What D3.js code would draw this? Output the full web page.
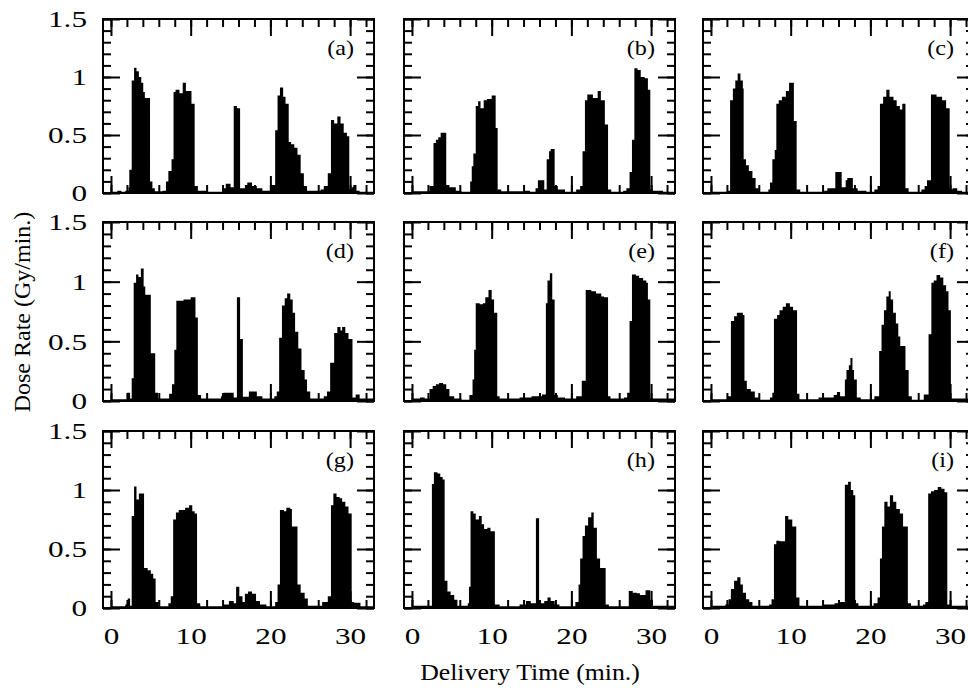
<!DOCTYPE html>
<html>
<head>
<meta charset="utf-8">
<script src="https://cdn.jsdelivr.net/npm/d3@7"></script>
<style>
  body { margin: 0; background: #fff; }
  svg { display: block; font-family: "Liberation Serif", "Times New Roman", serif; }
</style>
</head>
<body>
<div id="chart"></div>
<script>
// dose rate step histograms, [time (min), dose rate (Gy/min)] - value holds until next point
const panelA = [[0,0.01],[0.8,0.02],[1.3,0.01],[1.8,0.02],[2.2,0.05],[2.3,0.2],[2.6,0.97],[2.9,1.08],[3.2,1.05],[3.5,1.0],[3.8,0.95],[4.05,0.87],[4.25,0.82],[4.9,0.1],[5.2,0.04],[5.5,0.015],[6.5,0.02],[6.9,0.1],[7.2,0.19],[7.6,0.29],[7.85,0.87],[8.1,0.89],[8.6,0.86],[9.0,0.95],[9.4,0.88],[10.1,0.77],[10.5,0.06],[10.9,0.02],[12,0.01],[14.0,0.04],[14.4,0.08],[15.0,0.05],[15.4,0.75],[15.8,0.73],[16.2,0.04],[16.8,0.07],[17.1,0.09],[17.7,0.06],[18.3,0.04],[19,0.02],[20.2,0.07],[20.6,0.54],[20.9,0.84],[21.2,0.91],[21.6,0.83],[21.9,0.77],[22.3,0.44],[22.6,0.42],[23.0,0.39],[23.4,0.33],[23.8,0.17],[24.2,0.06],[24.6,0.02],[26.3,0.03],[26.7,0.06],[27.2,0.17],[27.6,0.63],[28.0,0.6],[28.4,0.66],[28.8,0.6],[29.2,0.52],[29.6,0.49],[29.9,0.03],[30.2,0.05],[30.4,0.07],[30.8,0.02],[31.2,0.01],[33,0]];
const panelB = [[0,0.015],[2.2,0.06],[2.7,0.43],[3.0,0.46],[3.3,0.48],[3.6,0.52],[4.3,0.07],[4.7,0.05],[5.5,0.02],[6.2,0.01],[7.3,0.1],[7.5,0.23],[7.7,0.34],[8.0,0.75],[8.3,0.79],[8.6,0.73],[9.0,0.8],[9.4,0.81],[10.0,0.84],[10.5,0.56],[10.75,0.03],[11.2,0.015],[14.0,0.02],[14.8,0.01],[15.5,0.04],[15.8,0.11],[16.6,0.03],[16.9,0.29],[17.2,0.36],[17.4,0.38],[17.9,0.06],[18.3,0.03],[19.2,0.01],[20.6,0.03],[21.1,0.06],[21.4,0.36],[21.7,0.8],[22.0,0.85],[22.7,0.82],[23.3,0.88],[23.7,0.8],[24.2,0.59],[24.6,0.03],[25,0.01],[26.5,0.02],[26.9,0.04],[27.3,0.18],[27.6,0.46],[27.9,1.075],[28.3,1.06],[28.7,1.0],[29.2,0.99],[29.6,0.89],[29.9,0.03],[30.2,0.02],[31.5,0.01],[33,0]];
const panelC = [[0,0.01],[2.0,0.02],[2.4,0.8],[2.75,0.9],[3.05,0.97],[3.35,1.03],[3.7,0.97],[4.0,0.9],[4.1,0.29],[4.4,0.24],[4.75,0.19],[5.2,0.13],[5.6,0.04],[6.0,0.01],[7.2,0.03],[7.4,0.09],[7.7,0.29],[8.0,0.37],[8.2,0.77],[8.5,0.8],[8.9,0.83],[9.4,0.88],[9.8,0.95],[10.4,0.62],[10.75,0.03],[11.2,0.01],[14.2,0.02],[14.6,0.04],[15.6,0.18],[16.4,0.05],[16.9,0.11],[17.1,0.13],[17.8,0.04],[18.4,0.02],[19.5,0.01],[20.5,0.03],[20.9,0.06],[21.2,0.77],[21.6,0.83],[22.0,0.89],[22.4,0.83],[22.9,0.8],[23.3,0.75],[23.7,0.72],[24.0,0.77],[24.4,0.04],[24.8,0.01],[26.4,0.03],[26.8,0.06],[27.1,0.11],[27.6,0.85],[28.3,0.83],[29.0,0.8],[29.5,0.73],[29.95,0.03],[30.3,0.04],[30.9,0.02],[31.5,0.01],[33,0]];
const panelD = [[0,0.015],[2.0,0.07],[2.4,0.02],[2.6,0.19],[2.85,0.99],[3.15,1.06],[3.45,1.04],[3.75,1.11],[4.1,0.96],[4.3,0.89],[5.0,0.4],[5.55,0.07],[5.9,0.02],[7.3,0.06],[7.65,0.14],[7.95,0.43],[8.2,0.84],[9.1,0.85],[10.0,0.87],[10.6,0.7],[10.9,0.05],[11.3,0.02],[13.8,0.04],[14.1,0.07],[15.4,0.03],[15.8,0.87],[16.2,0.52],[16.55,0.035],[17.3,0.08],[18.3,0.04],[19,0.02],[20.5,0.04],[20.8,0.08],[21.1,0.53],[21.45,0.8],[21.8,0.86],[22.1,0.9],[22.5,0.85],[22.8,0.74],[23.1,0.58],[23.5,0.44],[23.9,0.26],[24.3,0.18],[24.6,0.08],[25.0,0.02],[26.7,0.04],[27.1,0.08],[27.5,0.32],[28.0,0.57],[28.4,0.62],[28.8,0.59],[29.0,0.62],[29.4,0.57],[29.8,0.52],[30.3,0.03],[30.7,0.055],[31.2,0.02],[33,0]];
const panelE = [[0,0.02],[1.0,0.03],[1.6,0.02],[2.2,0.1],[2.6,0.125],[3.0,0.14],[3.4,0.15],[3.9,0.14],[4.3,0.1],[4.7,0.04],[5.3,0.02],[6.2,0.01],[7.2,0.05],[7.6,0.18],[7.8,0.43],[8.0,0.82],[8.5,0.81],[8.9,0.82],[9.2,0.87],[9.6,0.93],[10.0,0.85],[10.3,0.74],[10.7,0.04],[11.0,0.02],[13.5,0.03],[15.0,0.04],[16.3,0.055],[16.8,0.82],[17.0,1.01],[17.3,1.07],[17.6,0.85],[17.9,0.05],[18.3,0.03],[19.2,0.02],[20.6,0.04],[21.3,0.17],[21.8,0.93],[22.5,0.92],[23.1,0.9],[23.75,0.875],[24.1,0.87],[24.6,0.04],[24.9,0.02],[26.6,0.03],[27.0,0.07],[27.3,0.67],[27.6,1.06],[28.1,1.05],[28.5,1.03],[29.0,1.01],[29.4,0.99],[29.6,0.85],[29.9,0.02],[33,0]];
const panelF = [[0,0.015],[2.0,0.04],[2.5,0.67],[2.9,0.71],[3.25,0.74],[3.6,0.74],[4.0,0.72],[4.2,0.17],[4.5,0.1],[5.0,0.08],[5.5,0.03],[6.0,0.01],[7.4,0.03],[7.7,0.07],[7.9,0.69],[8.3,0.72],[8.6,0.76],[9.0,0.79],[9.4,0.82],[9.9,0.79],[10.3,0.76],[10.8,0.06],[11.1,0.015],[13.5,0.03],[15.4,0.05],[15.8,0.075],[16.2,0.04],[16.8,0.18],[17.0,0.26],[17.3,0.3],[17.5,0.36],[17.75,0.26],[17.95,0.18],[18.3,0.03],[18.8,0.015],[20.5,0.04],[21.1,0.42],[21.4,0.64],[21.7,0.76],[22.0,0.875],[22.3,0.92],[22.55,0.85],[22.85,0.74],[23.2,0.65],[23.5,0.54],[23.75,0.46],[24.4,0.26],[24.8,0.04],[25.2,0.01],[26.7,0.055],[27.3,0.56],[27.65,0.99],[27.95,1.01],[28.3,1.055],[28.75,1.035],[29.15,0.97],[29.5,0.92],[29.8,0.76],[30.1,0.02],[33,0]];
const panelG = [[0,0.015],[1.8,0.03],[2.1,0.08],[2.4,0.02],[2.6,0.78],[2.9,1.03],[3.2,0.92],[3.5,0.97],[3.9,0.97],[4.15,0.34],[4.6,0.32],[5.0,0.29],[5.3,0.25],[5.6,0.05],[6.0,0.015],[7.2,0.04],[7.5,0.1],[7.8,0.75],[8.15,0.81],[8.5,0.83],[8.9,0.83],[9.3,0.85],[9.8,0.87],[10.2,0.82],[10.5,0.8],[10.8,0.04],[11.2,0.015],[14.0,0.03],[14.8,0.06],[15.4,0.04],[15.7,0.18],[16.1,0.1],[16.5,0.05],[16.8,0.12],[17.2,0.14],[17.7,0.12],[18.2,0.06],[18.7,0.03],[19.5,0.015],[20.6,0.05],[20.9,0.2],[21.2,0.83],[21.7,0.82],[22.0,0.85],[22.5,0.84],[22.7,0.69],[23.4,0.2],[23.8,0.13],[24.3,0.08],[24.7,0.02],[26.5,0.05],[27.2,0.1],[27.6,0.87],[27.9,0.97],[28.3,0.94],[28.7,0.93],[29.0,0.9],[29.4,0.86],[29.8,0.8],[30.2,0.05],[30.5,0.045],[31.3,0.015],[33,0]];
const panelH = [[0,0.02],[2.5,1.05],[2.75,1.15],[3.2,1.14],[3.55,1.11],[3.85,1.09],[4.1,0.23],[4.45,0.14],[4.85,0.11],[5.3,0.07],[5.7,0.02],[7.0,0.04],[7.15,0.18],[7.35,0.82],[7.7,0.8],[8.0,0.75],[8.4,0.78],[8.75,0.71],[9.05,0.67],[9.45,0.68],[9.85,0.65],[10.4,0.03],[11,0.015],[13.5,0.03],[14.3,0.06],[14.9,0.04],[15.55,0.76],[15.95,0.04],[16.6,0.06],[17.0,0.09],[17.4,0.06],[17.9,0.03],[18.5,0.015],[20.5,0.05],[20.9,0.2],[21.1,0.42],[21.4,0.61],[21.7,0.7],[22.1,0.77],[22.5,0.81],[22.8,0.68],[23.2,0.42],[23.6,0.34],[24.3,0.03],[24.7,0.015],[27.2,0.145],[27.7,0.13],[28.2,0.125],[28.6,0.11],[29.3,0.15],[29.9,0.07],[30.2,0.02],[33,0]];
const panelI = [[0,0.02],[1.8,0.03],[2.2,0.075],[2.5,0.16],[2.9,0.23],[3.3,0.26],[3.7,0.2],[4.0,0.13],[4.4,0.075],[4.8,0.05],[5.2,0.02],[7.3,0.03],[7.6,0.075],[7.9,0.54],[8.2,0.57],[8.6,0.565],[9.3,0.78],[9.7,0.75],[10.2,0.69],[10.7,0.09],[11.1,0.02],[14.0,0.03],[15.5,0.04],[16.2,0.05],[16.8,1.045],[17.2,1.07],[17.55,1.0],[17.85,0.955],[18.1,0.04],[18.5,0.02],[20.4,0.04],[20.9,0.09],[21.2,0.42],[21.45,0.69],[21.75,0.9],[22.15,0.86],[22.45,0.955],[22.85,0.9],[23.25,0.84],[23.7,0.8],[24.1,0.69],[24.7,0.04],[25.1,0.02],[26.6,0.03],[26.9,0.05],[27.25,0.97],[27.6,0.99],[28.0,1.0],[28.45,1.025],[28.9,1.01],[29.3,0.98],[29.65,0.03],[30.1,0.02],[33,0]];

const panelSeries = [panelA, panelB, panelC, panelD, panelE, panelF, panelG, panelH, panelI];
const panelLabels = ["(a)", "(b)", "(c)", "(d)", "(e)", "(f)", "(g)", "(h)", "(i)"];
const xMajorTicks = [0, 10, 20, 30];
const xMinorTicks = d3.range(0, 33, 2);
const yMajorTicks = [0, 0.5, 1, 1.5];
const yMinorTicks = d3.range(0, 1.51, 0.1);
const xTitle = "Delivery Time (min.)";
const yTitle = "Dose Rate (Gy/min.)";

// layout
const W = 968, H = 688;
const colX = [103, 404, 703];
const rowY = [19, 222, 431];
const rowH = [174, 179, 177];
const panelW = 271;
const majorLen = 17, minorLen = 8;

// the scanned lettering is wider than Liberation Serif, so widen glyphs a bit
function widen(sel, k) {
  sel.each(function () {
    const w = this.getComputedTextLength();
    if (w > 0) d3.select(this).attr("textLength", w * k).attr("lengthAdjust", "spacingAndGlyphs");
  });
}

const svg = d3.select("#chart").append("svg")
  .attr("width", W)
  .attr("height", H);

const x = d3.scaleLinear().domain([-1, 33]).range([0, panelW]);

panelSeries.forEach((series, k) => {
  const col = k % 3, row = Math.floor(k / 3);
  const h = rowH[row];
  const y = d3.scaleLinear().domain([0, 1.5]).range([h, 0]);

  const g = svg.append("g")
    .attr("transform", "translate(" + colX[col] + "," + rowY[row] + ")");

  g.append("clipPath").attr("id", "clip" + k)
    .append("rect").attr("width", panelW).attr("height", h);

  const area = d3.area()
    .curve(d3.curveStepAfter)
    .x(d => x(d[0]))
    .y0(h)
    .y1(d => y(d[1]));

  g.append("path")
    .datum(series)
    .attr("clip-path", "url(#clip" + k + ")")
    .attr("fill", "#000")
    .attr("d", area);

  // inward ticks on all four sides
  const addAxis = (axis, tx, ty) => {
    const a = g.append("g")
      .attr("transform", "translate(" + tx + "," + ty + ")")
      .call(axis);
    a.select(".domain").remove();
    a.selectAll("line").attr("stroke", "#000").attr("stroke-width", 2);
    a.selectAll("text")
      .attr("fill", "#000")
      .style("font-family", "'Liberation Serif', serif")
      .style("font-size", "24px");
    widen(a.selectAll("text"), 1.3);
    return a;
  };

  addAxis(d3.axisBottom(x).tickValues(xMinorTicks).tickSize(-minorLen).tickFormat(""), 0, h);
  addAxis(d3.axisTop(x).tickValues(xMinorTicks).tickSize(-minorLen).tickFormat(""), 0, 0);
  addAxis(d3.axisTop(x).tickValues(xMajorTicks).tickSize(-majorLen).tickFormat(""), 0, 0);
  addAxis(d3.axisBottom(x).tickValues(xMajorTicks).tickSize(-majorLen).tickPadding(19)
    .tickFormat(row === 2 ? d3.format("d") : ""), 0, h);

  addAxis(d3.axisLeft(y).tickValues(yMinorTicks).tickSize(-minorLen).tickFormat(""), 0, 0);
  addAxis(d3.axisRight(y).tickValues(yMinorTicks).tickSize(-minorLen).tickFormat(""), panelW, 0);
  addAxis(d3.axisRight(y).tickValues(yMajorTicks).tickSize(-majorLen).tickFormat(""), panelW, 0);
  addAxis(d3.axisLeft(y).tickValues(yMajorTicks).tickSize(-majorLen).tickPadding(16)
    .tickFormat(col === 0 ? d3.format("") : ""), 0, 0);

  g.append("rect")
    .attr("width", panelW)
    .attr("height", h)
    .attr("fill", "none")
    .attr("stroke", "#000")
    .attr("stroke-width", 2);

  g.append("text")
    .attr("x", panelW - 20)
    .attr("y", 36)
    .attr("text-anchor", "end")
    .style("font-size", "21px")
    .text(panelLabels[k])
    .call(widen, 1.15);
});

svg.append("text")
  .attr("x", 530)
  .attr("y", 680)
  .attr("text-anchor", "middle")
  .style("font-size", "23px")
  .text(xTitle)
  .call(widen, 1.12);

svg.append("text")
  .attr("transform", "translate(30,312) rotate(-90)")
  .attr("text-anchor", "middle")
  .style("font-size", "24px")
  .text(yTitle);
</script>
</body>
</html>
